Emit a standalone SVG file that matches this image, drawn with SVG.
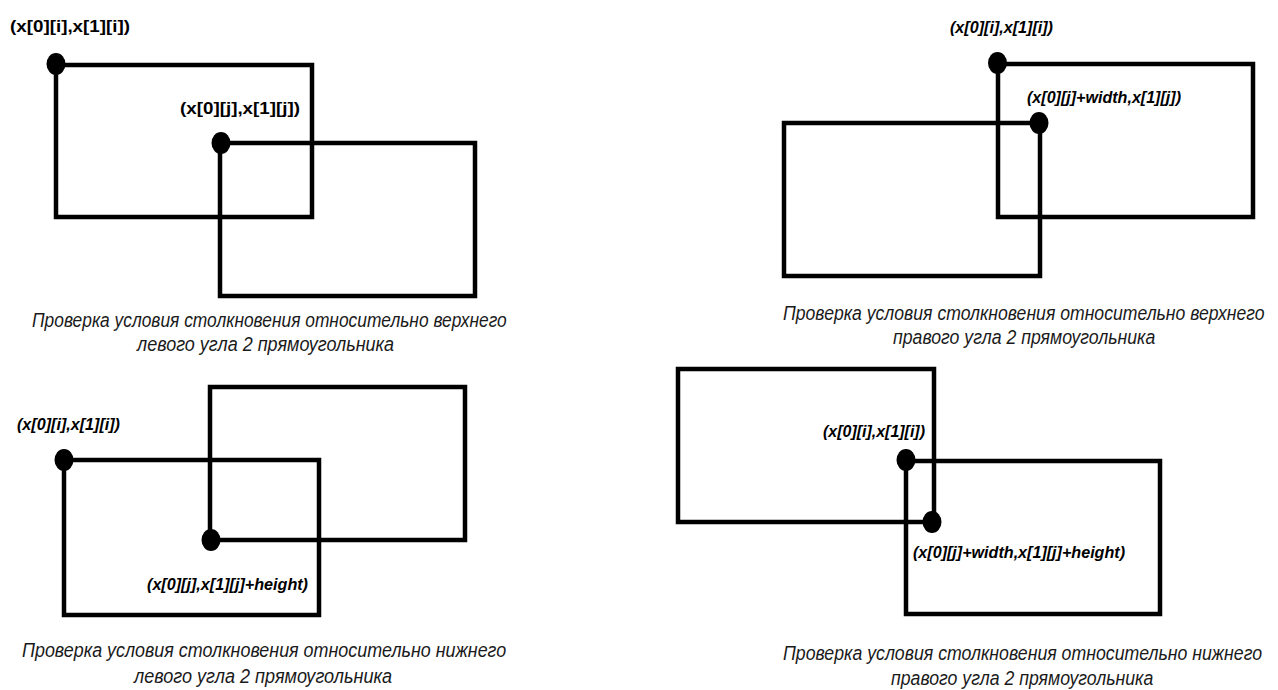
<svg xmlns="http://www.w3.org/2000/svg" width="1278" height="690" viewBox="0 0 1278 690">
  <style>
    .box { fill: none; stroke: #000; stroke-width: 4.5; }
    .dot { fill: #000; }
    .lbl { font-family: "Liberation Sans", Arial, sans-serif; font-weight: bold; font-size: 16px; fill: #000; }
    .lblu { font-family: "Liberation Sans", Arial, sans-serif; font-weight: bold; font-size: 17px; fill: #000; }
    .it { font-style: italic; }
    .cap { font-family: "Liberation Sans", Arial, sans-serif; font-style: italic; font-size: 21px; fill: #1a1a1a; }
  </style>
  <rect x="0" y="0" width="1278" height="690" fill="#fff"/>

  <!-- Panel 1: top-left corner -->
  <g id="p1">
    <g id="p1-rect-i">
      <rect class="box" x="56" y="65" width="256" height="152"/>
      <ellipse class="dot" cx="56" cy="64" rx="9.5" ry="11"/>
      <text class="lblu" x="10" y="32" textLength="120" lengthAdjust="spacingAndGlyphs">(x[0][i],x[1][i])</text>
    </g>
    <g id="p1-rect-j">
      <rect class="box" x="220" y="143" width="255" height="153"/>
      <ellipse class="dot" cx="221" cy="143" rx="9.5" ry="11"/>
      <text class="lblu" x="180" y="114" textLength="120" lengthAdjust="spacingAndGlyphs">(x[0][j],x[1][j])</text>
    </g>
    <g id="p1-caption">
      <text class="cap" transform="translate(32,327) scale(0.86,1)" x="0" y="0" textLength="552" lengthAdjust="spacingAndGlyphs">Проверка условия столкновения относительно верхнего</text>
      <text class="cap" transform="translate(137,351) scale(0.86,1)" x="0" y="0" textLength="299" lengthAdjust="spacingAndGlyphs">левого угла 2 прямоугольника</text>
    </g>
  </g>

  <!-- Panel 2: top-right corner -->
  <g id="p2">
    <g id="p2-rect-i">
      <rect class="box" x="998" y="64" width="255" height="153"/>
      <ellipse class="dot" cx="997.5" cy="63" rx="9.5" ry="11"/>
      <text class="lbl it" x="950" y="33" textLength="103" lengthAdjust="spacingAndGlyphs">(x[0][i],x[1][i])</text>
    </g>
    <g id="p2-rect-j">
      <rect class="box" x="784" y="123" width="256" height="153"/>
      <ellipse class="dot" cx="1039" cy="123" rx="9.5" ry="11"/>
      <text class="lbl it" x="1027" y="103" textLength="154" lengthAdjust="spacingAndGlyphs">(x[0][j]+width,x[1][j])</text>
    </g>
    <g id="p2-caption">
      <text class="cap" transform="translate(783,320) scale(0.86,1)" x="0" y="0" textLength="560" lengthAdjust="spacingAndGlyphs">Проверка условия столкновения относительно верхнего</text>
      <text class="cap" transform="translate(893,344) scale(0.86,1)" x="0" y="0" textLength="305" lengthAdjust="spacingAndGlyphs">правого угла 2 прямоугольника</text>
    </g>
  </g>

  <!-- Panel 3: bottom-left corner -->
  <g id="p3">
    <g id="p3-rect-j">
      <rect class="box" x="210" y="387" width="255" height="153"/>
    </g>
    <g id="p3-rect-i">
      <rect class="box" x="64" y="460" width="255" height="155"/>
      <ellipse class="dot" cx="64" cy="460" rx="9.5" ry="11"/>
      <text class="lbl it" x="17" y="430" textLength="103" lengthAdjust="spacingAndGlyphs">(x[0][i],x[1][i])</text>
    </g>
    <g id="p3-point-j">
      <ellipse class="dot" cx="211" cy="540" rx="9.5" ry="11"/>
      <text class="lbl it" x="147" y="590" textLength="161" lengthAdjust="spacingAndGlyphs">(x[0][j],x[1][j]+height)</text>
    </g>
    <g id="p3-caption">
      <text class="cap" transform="translate(22,657) scale(0.86,1)" x="0" y="0" textLength="563" lengthAdjust="spacingAndGlyphs">Проверка условия столкновения относительно нижнего</text>
      <text class="cap" transform="translate(134,683) scale(0.86,1)" x="0" y="0" textLength="300" lengthAdjust="spacingAndGlyphs">левого угла 2 прямоугольника</text>
    </g>
  </g>

  <!-- Panel 4: bottom-right corner -->
  <g id="p4">
    <g id="p4-rect-j">
      <rect class="box" x="678" y="369" width="256" height="153"/>
    </g>
    <g id="p4-rect-i">
      <rect class="box" x="906" y="461" width="254" height="153"/>
      <ellipse class="dot" cx="906" cy="460" rx="9.5" ry="11"/>
      <text class="lbl it" x="823" y="437" textLength="102" lengthAdjust="spacingAndGlyphs">(x[0][i],x[1][i])</text>
    </g>
    <g id="p4-point-j">
      <ellipse class="dot" cx="932" cy="522" rx="9.5" ry="11"/>
      <text class="lbl it" x="913" y="558" textLength="212" lengthAdjust="spacingAndGlyphs">(x[0][j]+width,x[1][j]+height)</text>
    </g>
    <g id="p4-caption">
      <text class="cap" transform="translate(783,660) scale(0.86,1)" x="0" y="0" textLength="557" lengthAdjust="spacingAndGlyphs">Проверка условия столкновения относительно нижнего</text>
      <text class="cap" transform="translate(891,685) scale(0.86,1)" x="0" y="0" textLength="305" lengthAdjust="spacingAndGlyphs">правого угла 2 прямоугольника</text>
    </g>
  </g>
</svg>
